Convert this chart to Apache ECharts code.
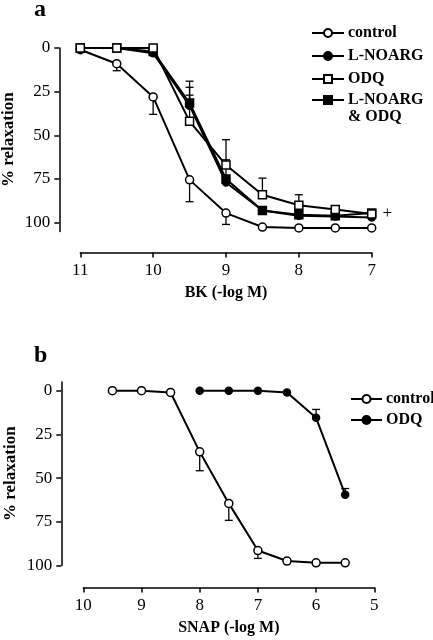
<!DOCTYPE html>
<html>
<head>
<meta charset="utf-8">
<script src="https://cdn.jsdelivr.net/npm/echarts@6/dist/echarts.min.js"></script>
<style>html,body{margin:0;padding:0;background:#fff;}#c{width:433px;height:640px;}</style>
</head>
<body>
<div id="c"></div>
<script>
// ---------- Panel a: BK ----------
const bkX = [11, 10.5, 10, 9.5, 9, 8.5, 8, 7.5, 7];
const bkControl = [1, 9, 28, 75.5, 94.5, 102.5, 103, 103, 103];
const bkControlErr = [null, 13, 38, 88, 101, null, null, null, null];
const bkLNOARG = [0, 0, 3, 33, 77, 93, 96, 96.5, 97];
const bkLNOARGErr = [null, null, null, 19, 64, null, null, null, null];
const bkODQ = [0, 0, 0, 42, 67, 84, 90, 92.5, 95];
const bkODQErr = [null, null, null, 22.5, 52.5, 74.5, 84, 91, null];
const bkBoth = [0, 0, 2, 31.5, 75, 93, 95.5, 96, 94.5];
const bkBothErr = [null, null, null, 27, null, null, null, null, null];
const bkXTicks = [11, 10, 9, 8, 7];
const yTicks = [0, 25, 50, 75, 100];

// ---------- Panel b: SNAP ----------
const snapXControl = [9.5, 9, 8.5, 8, 7.5, 7, 6.5, 6, 5.5];
const snapControl = [0, 0, 1, 35, 64.5, 91.5, 97.5, 98.5, 98.5];
const snapControlErr = [null, null, null, 45.8, 74.2, 96, null, null, null];
const snapXODQ = [8, 7.5, 7, 6.5, 6, 5.5];
const snapODQ = [0, 0, 0, 1, 15.5, 59.5];
const snapODQErr = [null, null, null, null, 10.7, 56];
const snapXTicks = [10, 9, 8, 7, 6, 5];

const FONT = "'Liberation Serif', 'Times New Roman', serif";

function pts(xs, ys) { return xs.map((x, i) => [x, ys[i]]); }
function errPts(xs, ys, es) {
  const out = [];
  xs.forEach((x, i) => { if (es[i] !== null) out.push([x, ys[i], es[i]]); });
  return out;
}
function errRender(params, api) {
  const x = api.value(0), y = api.value(1), e = api.value(2);
  const p0 = api.coord([x, y]);
  const p1 = api.coord([x, e]);
  const hw = 4;
  return {
    type: 'group',
    children: [
      { type: 'line', shape: { x1: p0[0], y1: p0[1], x2: p1[0], y2: p1[1] }, style: { stroke: '#000', lineWidth: 1.3 } },
      { type: 'line', shape: { x1: p1[0] - hw, y1: p1[1], x2: p1[0] + hw, y2: p1[1] }, style: { stroke: '#000', lineWidth: 1.3 } }
    ]
  };
}
function errSeries(xi, yi, data) {
  return { type: 'custom', xAxisIndex: xi, yAxisIndex: yi, renderItem: errRender, data: data, z: 1, silent: true,
    encode: { x: 0, y: [1, 2] } };
}
function lineSeries(name, xi, yi, data, symbol, filled, size, extra) {
  return Object.assign({
    name: name, type: 'line', xAxisIndex: xi, yAxisIndex: yi, data: data,
    symbol: symbol, symbolSize: size, showAllSymbol: true,
    lineStyle: { color: '#000', width: 2 },
    itemStyle: { color: filled ? '#000' : '#fff', borderColor: '#000', borderWidth: 1.5 },
    z: 3, animation: false
  }, extra || {});
}

const axisCommonX = (min, max, ticks, name, gridIndex, offset) => ({
  type: 'value', gridIndex: gridIndex, min: min, max: max, inverse: true, offset: offset, position: 'bottom',
  splitLine: { show: false },
  axisLine: { show: true, onZero: false, lineStyle: { color: '#000', width: 1.5 } },
  axisTick: { show: true, inside: false, length: 5, lineStyle: { color: '#000', width: 1.5 }, customValues: ticks },
  axisLabel: { color: '#000', fontFamily: FONT, fontSize: 17, margin: 10, customValues: ticks },
  name: name, nameLocation: 'middle', nameGap: 32, nameMoveOverlap: false,
  nameTextStyle: { color: '#000', fontFamily: FONT, fontSize: 16, fontWeight: 'bold' }
});
const axisCommonY = (min, max, gridIndex, offset) => ({
  type: 'value', gridIndex: gridIndex, min: min, max: max, inverse: true, offset: offset, position: 'left',
  splitLine: { show: false },
  axisLine: { show: true, onZero: false, lineStyle: { color: '#000', width: 1.5 } },
  axisTick: { show: true, length: 5, lineStyle: { color: '#000', width: 1.5 }, customValues: yTicks },
  axisLabel: { color: '#000', fontFamily: FONT, fontSize: 17, margin: 9, customValues: yTicks },
  name: '% relaxation', nameLocation: 'middle', nameGap: 42, nameMoveOverlap: false,
  nameTextStyle: { color: '#000', fontFamily: FONT, fontSize: 17, fontWeight: 'bold' }
});

const lastIdx = bkX.length - 1;
const legendText = { color: '#000', fontFamily: FONT, fontSize: 16, fontWeight: 'bold', padding: [0, 0, 0, -1] };

const option = {
  animation: false,
  backgroundColor: '#fff',
  grid: [
    { left: 80.3, top: 48, width: 291.4, height: 183.4, outerBoundsMode: 'none', containLabel: false },
    { left: 83.3, top: 382, width: 291, height: 183.4, outerBoundsMode: 'none', containLabel: false }
  ],
  xAxis: [
    axisCommonX(7, 11, bkXTicks, 'BK (-log M)', 0, 21),
    axisCommonX(5, 10, snapXTicks, 'SNAP (-log M)', 1, 22)
  ],
  yAxis: [
    axisCommonY(0, 105, 0, 21),
    axisCommonY(-5, 100, 1, 22)
  ],
  legend: [
    {
      orient: 'vertical', left: 311, top: 25, padding: 0, itemWidth: 32, itemHeight: 10, itemGap: 7,
      data: ['control', 'L-NOARG', 'ODQ'],
      textStyle: legendText, selectedMode: false
    },
    {
      orient: 'vertical', left: 311, top: 74.5, padding: 0, itemWidth: 32, itemHeight: 10, itemGap: 7,
      data: ['L-NOARG & ODQ'],
      formatter: n => '\n' + n.replace(' & ', '\n& '),
      textStyle: Object.assign({}, legendText, { lineHeight: 17 }), selectedMode: false
    },
    {
      orient: 'vertical', left: 350, top: 391, padding: 0, itemWidth: 31, itemHeight: 10, itemGap: 5,
      data: ['control (SNAP)', 'ODQ (SNAP)'],
      formatter: n => n.replace(' (SNAP)', ''),
      textStyle: legendText, selectedMode: false
    }
  ],
  graphic: [
    { type: 'text', left: 34, top: -2, style: { text: 'a', font: "bold 24px " + FONT, fill: '#000' } },
    { type: 'text', left: 34, top: 344, style: { text: 'b', font: "bold 24px " + FONT, fill: '#000' } }
  ],
  series: [
    errSeries(0, 0, errPts(bkX, bkControl, bkControlErr)),
    errSeries(0, 0, errPts(bkX, bkLNOARG, bkLNOARGErr)),
    errSeries(0, 0, errPts(bkX, bkODQ, bkODQErr)),
    errSeries(0, 0, errPts(bkX, bkBoth, bkBothErr)),
    lineSeries('control', 0, 0, pts(bkX, bkControl), 'circle', false, 8),
    lineSeries('L-NOARG', 0, 0, pts(bkX, bkLNOARG), 'circle', true, 7),
    lineSeries('L-NOARG & ODQ', 0, 0, pts(bkX, bkBoth), 'rect', true, 8, {
      label: { show: true, position: 'right', distance: 6, color: '#000', fontFamily: FONT, fontSize: 17,
        formatter: p => p.dataIndex === lastIdx ? '+' : '' }
    }),
    lineSeries('ODQ', 0, 0, pts(bkX, bkODQ), 'rect', false, 8),
    errSeries(1, 1, errPts(snapXControl, snapControl, snapControlErr)),
    errSeries(1, 1, errPts(snapXODQ, snapODQ, snapODQErr)),
    lineSeries('control (SNAP)', 1, 1, pts(snapXControl, snapControl), 'circle', false, 8),
    lineSeries('ODQ (SNAP)', 1, 1, pts(snapXODQ, snapODQ), 'circle', true, 7)
  ]
};

const chart = echarts.init(document.getElementById('c'), null, { renderer: 'canvas' });
chart.setOption(option);
</script>
</body>
</html>
